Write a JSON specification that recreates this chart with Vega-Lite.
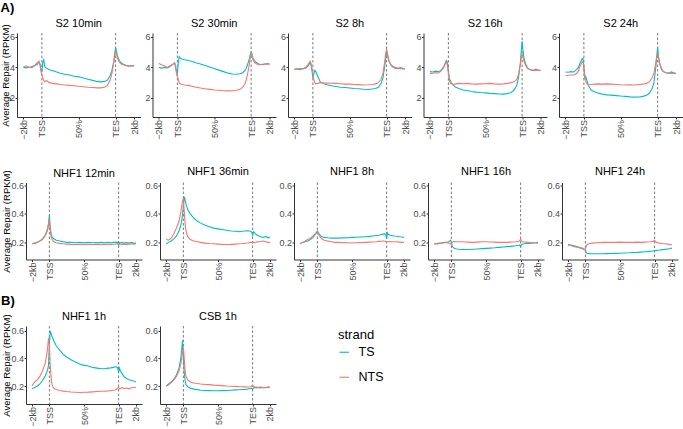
{
 "$schema": "https://vega.github.io/schema/vega-lite/v6.json",
 "padding": {"left": 0, "top": 1, "right": 0, "bottom": 0},
 "background": "white",
 "datasets": {
  "markers": [{"x": 20}, {"x": 100}],
  "s2_10min": [
{"strand":"TS","x":0,"y":4.0},{"strand":"TS","x":3,"y":3.97},{"strand":"TS","x":6,"y":4.02},{"strand":"TS","x":9,"y":3.98},{"strand":"TS","x":12,"y":4.1},{"strand":"TS","x":15,"y":4.2},{"strand":"TS","x":17,"y":4.35},{"strand":"TS","x":18,"y":4.2},{"strand":"TS","x":19,"y":3.85},{"strand":"TS","x":20,"y":3.7},{"strand":"TS","x":21,"y":4.35},{"strand":"TS","x":22,"y":4.5},{"strand":"TS","x":23,"y":4.05},{"strand":"TS","x":25,"y":3.95},{"strand":"TS","x":28,"y":3.85},{"strand":"TS","x":32,"y":3.78},{"strand":"TS","x":36,"y":3.7},{"strand":"TS","x":40,"y":3.62},{"strand":"TS","x":45,"y":3.55},{"strand":"TS","x":50,"y":3.5},{"strand":"TS","x":55,"y":3.42},{"strand":"TS","x":60,"y":3.38},{"strand":"TS","x":65,"y":3.3},{"strand":"TS","x":70,"y":3.22},{"strand":"TS","x":75,"y":3.15},{"strand":"TS","x":80,"y":3.08},{"strand":"TS","x":84,"y":3.05},{"strand":"TS","x":88,"y":3.08},{"strand":"TS","x":91,"y":3.15},{"strand":"TS","x":94,"y":3.45},{"strand":"TS","x":96,"y":3.8},{"strand":"TS","x":98,"y":4.4},{"strand":"TS","x":99,"y":4.9},{"strand":"TS","x":100,"y":5.3},{"strand":"TS","x":101,"y":5.05},{"strand":"TS","x":102,"y":4.75},{"strand":"TS","x":104,"y":4.45},{"strand":"TS","x":106,"y":4.3},{"strand":"TS","x":109,"y":4.18},{"strand":"TS","x":112,"y":4.12},{"strand":"TS","x":115,"y":4.08},{"strand":"TS","x":118,"y":4.12},{"strand":"TS","x":120,"y":4.1},
{"strand":"NTS","x":0,"y":4.02},{"strand":"NTS","x":3,"y":4.1},{"strand":"NTS","x":6,"y":3.98},{"strand":"NTS","x":9,"y":4.05},{"strand":"NTS","x":12,"y":4.12},{"strand":"NTS","x":15,"y":4.3},{"strand":"NTS","x":17,"y":4.4},{"strand":"NTS","x":18,"y":4.15},{"strand":"NTS","x":19,"y":3.75},{"strand":"NTS","x":20,"y":3.5},{"strand":"NTS","x":21,"y":3.3},{"strand":"NTS","x":22,"y":3.15},{"strand":"NTS","x":23,"y":3.05},{"strand":"NTS","x":25,"y":3.15},{"strand":"NTS","x":28,"y":3.0},{"strand":"NTS","x":32,"y":2.95},{"strand":"NTS","x":36,"y":2.92},{"strand":"NTS","x":40,"y":2.88},{"strand":"NTS","x":45,"y":2.85},{"strand":"NTS","x":50,"y":2.82},{"strand":"NTS","x":55,"y":2.8},{"strand":"NTS","x":60,"y":2.76},{"strand":"NTS","x":65,"y":2.73},{"strand":"NTS","x":70,"y":2.7},{"strand":"NTS","x":75,"y":2.68},{"strand":"NTS","x":80,"y":2.66},{"strand":"NTS","x":84,"y":2.66},{"strand":"NTS","x":88,"y":2.7},{"strand":"NTS","x":91,"y":2.82},{"strand":"NTS","x":94,"y":3.15},{"strand":"NTS","x":96,"y":3.6},{"strand":"NTS","x":98,"y":4.3},{"strand":"NTS","x":99,"y":4.75},{"strand":"NTS","x":100,"y":5.05},{"strand":"NTS","x":101,"y":4.9},{"strand":"NTS","x":102,"y":4.6},{"strand":"NTS","x":104,"y":4.35},{"strand":"NTS","x":106,"y":4.22},{"strand":"NTS","x":109,"y":4.15},{"strand":"NTS","x":112,"y":4.1},{"strand":"NTS","x":115,"y":4.08},{"strand":"NTS","x":118,"y":4.1},{"strand":"NTS","x":120,"y":4.1}
  ],
  "s2_30min": [
{"strand":"TS","x":0,"y":4.0},{"strand":"TS","x":3,"y":3.95},{"strand":"TS","x":6,"y":4.0},{"strand":"TS","x":9,"y":3.97},{"strand":"TS","x":12,"y":4.05},{"strand":"TS","x":15,"y":4.2},{"strand":"TS","x":17,"y":4.3},{"strand":"TS","x":18,"y":4.1},{"strand":"TS","x":19,"y":3.75},{"strand":"TS","x":20,"y":3.6},{"strand":"TS","x":21,"y":4.3},{"strand":"TS","x":22,"y":4.7},{"strand":"TS","x":23,"y":4.62},{"strand":"TS","x":25,"y":4.55},{"strand":"TS","x":28,"y":4.5},{"strand":"TS","x":32,"y":4.45},{"strand":"TS","x":36,"y":4.38},{"strand":"TS","x":40,"y":4.3},{"strand":"TS","x":45,"y":4.22},{"strand":"TS","x":50,"y":4.12},{"strand":"TS","x":55,"y":4.02},{"strand":"TS","x":60,"y":3.92},{"strand":"TS","x":65,"y":3.82},{"strand":"TS","x":70,"y":3.72},{"strand":"TS","x":75,"y":3.62},{"strand":"TS","x":80,"y":3.57},{"strand":"TS","x":84,"y":3.55},{"strand":"TS","x":88,"y":3.58},{"strand":"TS","x":91,"y":3.65},{"strand":"TS","x":94,"y":3.85},{"strand":"TS","x":96,"y":4.15},{"strand":"TS","x":98,"y":4.55},{"strand":"TS","x":99,"y":4.8},{"strand":"TS","x":100,"y":5.0},{"strand":"TS","x":101,"y":4.85},{"strand":"TS","x":102,"y":4.6},{"strand":"TS","x":104,"y":4.4},{"strand":"TS","x":106,"y":4.3},{"strand":"TS","x":109,"y":4.2},{"strand":"TS","x":112,"y":4.18},{"strand":"TS","x":115,"y":4.22},{"strand":"TS","x":118,"y":4.25},{"strand":"TS","x":120,"y":4.2},
{"strand":"NTS","x":0,"y":4.25},{"strand":"NTS","x":3,"y":4.15},{"strand":"NTS","x":6,"y":4.1},{"strand":"NTS","x":9,"y":4.0},{"strand":"NTS","x":12,"y":4.1},{"strand":"NTS","x":15,"y":4.2},{"strand":"NTS","x":17,"y":4.3},{"strand":"NTS","x":18,"y":4.0},{"strand":"NTS","x":19,"y":3.6},{"strand":"NTS","x":20,"y":3.4},{"strand":"NTS","x":21,"y":3.2},{"strand":"NTS","x":22,"y":3.0},{"strand":"NTS","x":23,"y":2.92},{"strand":"NTS","x":25,"y":2.88},{"strand":"NTS","x":28,"y":2.85},{"strand":"NTS","x":32,"y":2.82},{"strand":"NTS","x":36,"y":2.76},{"strand":"NTS","x":40,"y":2.7},{"strand":"NTS","x":45,"y":2.65},{"strand":"NTS","x":50,"y":2.6},{"strand":"NTS","x":55,"y":2.56},{"strand":"NTS","x":60,"y":2.52},{"strand":"NTS","x":65,"y":2.5},{"strand":"NTS","x":70,"y":2.47},{"strand":"NTS","x":75,"y":2.46},{"strand":"NTS","x":80,"y":2.47},{"strand":"NTS","x":84,"y":2.5},{"strand":"NTS","x":88,"y":2.56},{"strand":"NTS","x":91,"y":2.7},{"strand":"NTS","x":94,"y":3.0},{"strand":"NTS","x":96,"y":3.5},{"strand":"NTS","x":98,"y":4.2},{"strand":"NTS","x":99,"y":4.6},{"strand":"NTS","x":100,"y":4.9},{"strand":"NTS","x":101,"y":4.75},{"strand":"NTS","x":102,"y":4.5},{"strand":"NTS","x":104,"y":4.3},{"strand":"NTS","x":106,"y":4.22},{"strand":"NTS","x":109,"y":4.18},{"strand":"NTS","x":112,"y":4.2},{"strand":"NTS","x":115,"y":4.2},{"strand":"NTS","x":118,"y":4.22},{"strand":"NTS","x":120,"y":4.2}
  ],
  "s2_8h": [
{"strand":"TS","x":0,"y":3.88},{"strand":"TS","x":3,"y":3.9},{"strand":"TS","x":6,"y":3.85},{"strand":"TS","x":9,"y":3.92},{"strand":"TS","x":12,"y":3.95},{"strand":"TS","x":15,"y":4.1},{"strand":"TS","x":17,"y":4.3},{"strand":"TS","x":18,"y":4.2},{"strand":"TS","x":19,"y":3.8},{"strand":"TS","x":20,"y":3.3},{"strand":"TS","x":21,"y":3.55},{"strand":"TS","x":22,"y":3.8},{"strand":"TS","x":23,"y":3.75},{"strand":"TS","x":25,"y":3.45},{"strand":"TS","x":28,"y":3.05},{"strand":"TS","x":32,"y":2.92},{"strand":"TS","x":36,"y":2.85},{"strand":"TS","x":40,"y":2.8},{"strand":"TS","x":45,"y":2.75},{"strand":"TS","x":50,"y":2.7},{"strand":"TS","x":55,"y":2.68},{"strand":"TS","x":60,"y":2.65},{"strand":"TS","x":65,"y":2.62},{"strand":"TS","x":70,"y":2.6},{"strand":"TS","x":75,"y":2.57},{"strand":"TS","x":80,"y":2.55},{"strand":"TS","x":84,"y":2.58},{"strand":"TS","x":88,"y":2.62},{"strand":"TS","x":91,"y":2.7},{"strand":"TS","x":94,"y":2.95},{"strand":"TS","x":96,"y":3.3},{"strand":"TS","x":98,"y":4.1},{"strand":"TS","x":99,"y":4.6},{"strand":"TS","x":100,"y":5.0},{"strand":"TS","x":101,"y":4.8},{"strand":"TS","x":102,"y":4.5},{"strand":"TS","x":104,"y":4.2},{"strand":"TS","x":106,"y":4.05},{"strand":"TS","x":109,"y":3.95},{"strand":"TS","x":112,"y":3.92},{"strand":"TS","x":115,"y":3.98},{"strand":"TS","x":118,"y":3.92},{"strand":"TS","x":120,"y":3.9},
{"strand":"NTS","x":0,"y":3.9},{"strand":"NTS","x":3,"y":3.88},{"strand":"NTS","x":6,"y":3.92},{"strand":"NTS","x":9,"y":3.9},{"strand":"NTS","x":12,"y":4.0},{"strand":"NTS","x":15,"y":4.2},{"strand":"NTS","x":17,"y":4.4},{"strand":"NTS","x":18,"y":4.25},{"strand":"NTS","x":19,"y":3.95},{"strand":"NTS","x":20,"y":3.6},{"strand":"NTS","x":21,"y":3.2},{"strand":"NTS","x":22,"y":3.0},{"strand":"NTS","x":23,"y":2.92},{"strand":"NTS","x":25,"y":2.95},{"strand":"NTS","x":28,"y":3.0},{"strand":"NTS","x":32,"y":2.98},{"strand":"NTS","x":36,"y":2.97},{"strand":"NTS","x":40,"y":2.96},{"strand":"NTS","x":45,"y":2.95},{"strand":"NTS","x":50,"y":2.93},{"strand":"NTS","x":55,"y":2.9},{"strand":"NTS","x":60,"y":2.9},{"strand":"NTS","x":65,"y":2.88},{"strand":"NTS","x":70,"y":2.87},{"strand":"NTS","x":75,"y":2.85},{"strand":"NTS","x":80,"y":2.86},{"strand":"NTS","x":84,"y":2.88},{"strand":"NTS","x":88,"y":2.92},{"strand":"NTS","x":91,"y":3.0},{"strand":"NTS","x":94,"y":3.2},{"strand":"NTS","x":96,"y":3.6},{"strand":"NTS","x":98,"y":4.4},{"strand":"NTS","x":99,"y":4.9},{"strand":"NTS","x":100,"y":5.2},{"strand":"NTS","x":101,"y":4.9},{"strand":"NTS","x":102,"y":4.55},{"strand":"NTS","x":104,"y":4.25},{"strand":"NTS","x":106,"y":4.1},{"strand":"NTS","x":109,"y":4.0},{"strand":"NTS","x":112,"y":3.95},{"strand":"NTS","x":115,"y":3.92},{"strand":"NTS","x":118,"y":3.9},{"strand":"NTS","x":120,"y":3.9}
  ],
  "s2_16h": [
{"strand":"TS","x":0,"y":3.72},{"strand":"TS","x":3,"y":3.7},{"strand":"TS","x":6,"y":3.75},{"strand":"TS","x":9,"y":3.72},{"strand":"TS","x":12,"y":3.8},{"strand":"TS","x":15,"y":4.05},{"strand":"TS","x":17,"y":4.35},{"strand":"TS","x":18,"y":4.45},{"strand":"TS","x":19,"y":4.3},{"strand":"TS","x":20,"y":3.8},{"strand":"TS","x":21,"y":3.25},{"strand":"TS","x":22,"y":3.15},{"strand":"TS","x":23,"y":3.0},{"strand":"TS","x":25,"y":2.85},{"strand":"TS","x":28,"y":2.7},{"strand":"TS","x":32,"y":2.6},{"strand":"TS","x":36,"y":2.52},{"strand":"TS","x":40,"y":2.48},{"strand":"TS","x":45,"y":2.42},{"strand":"TS","x":50,"y":2.38},{"strand":"TS","x":55,"y":2.35},{"strand":"TS","x":60,"y":2.33},{"strand":"TS","x":65,"y":2.3},{"strand":"TS","x":70,"y":2.28},{"strand":"TS","x":75,"y":2.26},{"strand":"TS","x":80,"y":2.25},{"strand":"TS","x":84,"y":2.28},{"strand":"TS","x":88,"y":2.35},{"strand":"TS","x":91,"y":2.5},{"strand":"TS","x":94,"y":2.8},{"strand":"TS","x":96,"y":3.3},{"strand":"TS","x":98,"y":4.2},{"strand":"TS","x":99,"y":5.0},{"strand":"TS","x":100,"y":5.7},{"strand":"TS","x":101,"y":5.1},{"strand":"TS","x":102,"y":4.6},{"strand":"TS","x":104,"y":4.2},{"strand":"TS","x":106,"y":3.95},{"strand":"TS","x":109,"y":3.85},{"strand":"TS","x":112,"y":3.8},{"strand":"TS","x":115,"y":3.88},{"strand":"TS","x":118,"y":3.8},{"strand":"TS","x":120,"y":3.8},
{"strand":"NTS","x":0,"y":3.6},{"strand":"NTS","x":3,"y":3.62},{"strand":"NTS","x":6,"y":3.65},{"strand":"NTS","x":9,"y":3.63},{"strand":"NTS","x":12,"y":3.75},{"strand":"NTS","x":15,"y":4.0},{"strand":"NTS","x":17,"y":4.3},{"strand":"NTS","x":18,"y":4.35},{"strand":"NTS","x":19,"y":4.1},{"strand":"NTS","x":20,"y":3.6},{"strand":"NTS","x":21,"y":3.2},{"strand":"NTS","x":22,"y":3.0},{"strand":"NTS","x":23,"y":2.92},{"strand":"NTS","x":25,"y":2.88},{"strand":"NTS","x":28,"y":2.92},{"strand":"NTS","x":32,"y":2.95},{"strand":"NTS","x":36,"y":2.93},{"strand":"NTS","x":40,"y":2.95},{"strand":"NTS","x":45,"y":2.92},{"strand":"NTS","x":50,"y":2.9},{"strand":"NTS","x":55,"y":2.92},{"strand":"NTS","x":60,"y":2.93},{"strand":"NTS","x":65,"y":2.95},{"strand":"NTS","x":70,"y":2.92},{"strand":"NTS","x":75,"y":2.9},{"strand":"NTS","x":80,"y":2.92},{"strand":"NTS","x":84,"y":2.95},{"strand":"NTS","x":88,"y":3.0},{"strand":"NTS","x":91,"y":3.05},{"strand":"NTS","x":94,"y":3.2},{"strand":"NTS","x":96,"y":3.5},{"strand":"NTS","x":98,"y":4.2},{"strand":"NTS","x":99,"y":4.6},{"strand":"NTS","x":100,"y":4.9},{"strand":"NTS","x":101,"y":4.7},{"strand":"NTS","x":102,"y":4.4},{"strand":"NTS","x":104,"y":4.1},{"strand":"NTS","x":106,"y":3.92},{"strand":"NTS","x":109,"y":3.85},{"strand":"NTS","x":112,"y":3.8},{"strand":"NTS","x":115,"y":3.82},{"strand":"NTS","x":118,"y":3.8},{"strand":"NTS","x":120,"y":3.8}
  ],
  "s2_24h": [
{"strand":"TS","x":0,"y":3.7},{"strand":"TS","x":3,"y":3.68},{"strand":"TS","x":6,"y":3.72},{"strand":"TS","x":9,"y":3.7},{"strand":"TS","x":12,"y":3.85},{"strand":"TS","x":14,"y":4.0},{"strand":"TS","x":16,"y":4.3},{"strand":"TS","x":18,"y":4.55},{"strand":"TS","x":19,"y":4.6},{"strand":"TS","x":20,"y":4.1},{"strand":"TS","x":21,"y":3.3},{"strand":"TS","x":22,"y":3.4},{"strand":"TS","x":23,"y":3.2},{"strand":"TS","x":25,"y":2.8},{"strand":"TS","x":28,"y":2.5},{"strand":"TS","x":32,"y":2.38},{"strand":"TS","x":36,"y":2.3},{"strand":"TS","x":40,"y":2.25},{"strand":"TS","x":45,"y":2.2},{"strand":"TS","x":50,"y":2.18},{"strand":"TS","x":55,"y":2.15},{"strand":"TS","x":60,"y":2.12},{"strand":"TS","x":65,"y":2.1},{"strand":"TS","x":70,"y":2.07},{"strand":"TS","x":75,"y":2.05},{"strand":"TS","x":80,"y":2.06},{"strand":"TS","x":84,"y":2.1},{"strand":"TS","x":88,"y":2.18},{"strand":"TS","x":91,"y":2.3},{"strand":"TS","x":94,"y":2.6},{"strand":"TS","x":96,"y":3.0},{"strand":"TS","x":98,"y":4.0},{"strand":"TS","x":99,"y":4.7},{"strand":"TS","x":100,"y":5.3},{"strand":"TS","x":101,"y":4.7},{"strand":"TS","x":102,"y":4.3},{"strand":"TS","x":104,"y":3.9},{"strand":"TS","x":106,"y":3.72},{"strand":"TS","x":109,"y":3.65},{"strand":"TS","x":112,"y":3.62},{"strand":"TS","x":115,"y":3.7},{"strand":"TS","x":118,"y":3.62},{"strand":"TS","x":120,"y":3.6},
{"strand":"NTS","x":0,"y":3.45},{"strand":"NTS","x":3,"y":3.48},{"strand":"NTS","x":6,"y":3.5},{"strand":"NTS","x":9,"y":3.5},{"strand":"NTS","x":12,"y":3.6},{"strand":"NTS","x":14,"y":3.75},{"strand":"NTS","x":16,"y":4.1},{"strand":"NTS","x":18,"y":4.35},{"strand":"NTS","x":19,"y":4.4},{"strand":"NTS","x":20,"y":3.9},{"strand":"NTS","x":21,"y":3.4},{"strand":"NTS","x":22,"y":3.1},{"strand":"NTS","x":23,"y":2.95},{"strand":"NTS","x":25,"y":2.85},{"strand":"NTS","x":28,"y":2.88},{"strand":"NTS","x":32,"y":2.9},{"strand":"NTS","x":36,"y":2.92},{"strand":"NTS","x":40,"y":2.9},{"strand":"NTS","x":45,"y":2.92},{"strand":"NTS","x":50,"y":2.9},{"strand":"NTS","x":55,"y":2.88},{"strand":"NTS","x":60,"y":2.86},{"strand":"NTS","x":65,"y":2.85},{"strand":"NTS","x":70,"y":2.86},{"strand":"NTS","x":75,"y":2.85},{"strand":"NTS","x":80,"y":2.88},{"strand":"NTS","x":84,"y":2.9},{"strand":"NTS","x":88,"y":2.95},{"strand":"NTS","x":91,"y":3.05},{"strand":"NTS","x":94,"y":3.3},{"strand":"NTS","x":96,"y":3.6},{"strand":"NTS","x":98,"y":4.3},{"strand":"NTS","x":99,"y":4.7},{"strand":"NTS","x":100,"y":4.9},{"strand":"NTS","x":101,"y":4.6},{"strand":"NTS","x":102,"y":4.3},{"strand":"NTS","x":104,"y":3.95},{"strand":"NTS","x":106,"y":3.75},{"strand":"NTS","x":109,"y":3.65},{"strand":"NTS","x":112,"y":3.62},{"strand":"NTS","x":115,"y":3.6},{"strand":"NTS","x":118,"y":3.62},{"strand":"NTS","x":120,"y":3.6}
  ],
  "nhf1_12min": [
{"strand":"TS","x":0,"y":0.19},{"strand":"TS","x":3,"y":0.195},{"strand":"TS","x":6,"y":0.2},{"strand":"TS","x":9,"y":0.21},{"strand":"TS","x":12,"y":0.22},{"strand":"TS","x":15,"y":0.245},{"strand":"TS","x":17,"y":0.27},{"strand":"TS","x":18,"y":0.29},{"strand":"TS","x":19,"y":0.33},{"strand":"TS","x":20,"y":0.39},{"strand":"TS","x":21,"y":0.31},{"strand":"TS","x":22,"y":0.26},{"strand":"TS","x":23,"y":0.24},{"strand":"TS","x":25,"y":0.225},{"strand":"TS","x":28,"y":0.215},{"strand":"TS","x":32,"y":0.21},{"strand":"TS","x":36,"y":0.205},{"strand":"TS","x":40,"y":0.2},{"strand":"TS","x":45,"y":0.2},{"strand":"TS","x":50,"y":0.198},{"strand":"TS","x":55,"y":0.2},{"strand":"TS","x":60,"y":0.198},{"strand":"TS","x":65,"y":0.2},{"strand":"TS","x":70,"y":0.197},{"strand":"TS","x":75,"y":0.198},{"strand":"TS","x":80,"y":0.2},{"strand":"TS","x":84,"y":0.197},{"strand":"TS","x":88,"y":0.2},{"strand":"TS","x":91,"y":0.198},{"strand":"TS","x":94,"y":0.2},{"strand":"TS","x":96,"y":0.2},{"strand":"TS","x":98,"y":0.202},{"strand":"TS","x":99,"y":0.2},{"strand":"TS","x":100,"y":0.175},{"strand":"TS","x":101,"y":0.2},{"strand":"TS","x":102,"y":0.198},{"strand":"TS","x":104,"y":0.2},{"strand":"TS","x":106,"y":0.195},{"strand":"TS","x":109,"y":0.198},{"strand":"TS","x":112,"y":0.195},{"strand":"TS","x":115,"y":0.2},{"strand":"TS","x":118,"y":0.193},{"strand":"TS","x":120,"y":0.195},
{"strand":"NTS","x":0,"y":0.19},{"strand":"NTS","x":3,"y":0.195},{"strand":"NTS","x":6,"y":0.2},{"strand":"NTS","x":9,"y":0.21},{"strand":"NTS","x":12,"y":0.225},{"strand":"NTS","x":15,"y":0.25},{"strand":"NTS","x":17,"y":0.28},{"strand":"NTS","x":18,"y":0.3},{"strand":"NTS","x":19,"y":0.33},{"strand":"NTS","x":20,"y":0.36},{"strand":"NTS","x":21,"y":0.29},{"strand":"NTS","x":22,"y":0.24},{"strand":"NTS","x":23,"y":0.22},{"strand":"NTS","x":25,"y":0.205},{"strand":"NTS","x":28,"y":0.198},{"strand":"NTS","x":32,"y":0.193},{"strand":"NTS","x":36,"y":0.19},{"strand":"NTS","x":40,"y":0.188},{"strand":"NTS","x":45,"y":0.186},{"strand":"NTS","x":50,"y":0.185},{"strand":"NTS","x":55,"y":0.185},{"strand":"NTS","x":60,"y":0.186},{"strand":"NTS","x":65,"y":0.185},{"strand":"NTS","x":70,"y":0.185},{"strand":"NTS","x":75,"y":0.186},{"strand":"NTS","x":80,"y":0.185},{"strand":"NTS","x":84,"y":0.186},{"strand":"NTS","x":88,"y":0.185},{"strand":"NTS","x":91,"y":0.186},{"strand":"NTS","x":94,"y":0.187},{"strand":"NTS","x":96,"y":0.188},{"strand":"NTS","x":98,"y":0.19},{"strand":"NTS","x":99,"y":0.19},{"strand":"NTS","x":100,"y":0.192},{"strand":"NTS","x":101,"y":0.19},{"strand":"NTS","x":102,"y":0.188},{"strand":"NTS","x":104,"y":0.186},{"strand":"NTS","x":106,"y":0.188},{"strand":"NTS","x":109,"y":0.186},{"strand":"NTS","x":112,"y":0.188},{"strand":"NTS","x":115,"y":0.19},{"strand":"NTS","x":118,"y":0.188},{"strand":"NTS","x":120,"y":0.19}
  ],
  "nhf1_36min": [
{"strand":"TS","x":0,"y":0.19},{"strand":"TS","x":3,"y":0.2},{"strand":"TS","x":6,"y":0.21},{"strand":"TS","x":9,"y":0.225},{"strand":"TS","x":12,"y":0.245},{"strand":"TS","x":15,"y":0.28},{"strand":"TS","x":17,"y":0.32},{"strand":"TS","x":18,"y":0.35},{"strand":"TS","x":19,"y":0.39},{"strand":"TS","x":20,"y":0.45},{"strand":"TS","x":21,"y":0.52},{"strand":"TS","x":22,"y":0.5},{"strand":"TS","x":23,"y":0.47},{"strand":"TS","x":25,"y":0.43},{"strand":"TS","x":28,"y":0.4},{"strand":"TS","x":32,"y":0.37},{"strand":"TS","x":36,"y":0.35},{"strand":"TS","x":40,"y":0.335},{"strand":"TS","x":45,"y":0.32},{"strand":"TS","x":50,"y":0.31},{"strand":"TS","x":55,"y":0.3},{"strand":"TS","x":60,"y":0.295},{"strand":"TS","x":65,"y":0.29},{"strand":"TS","x":70,"y":0.285},{"strand":"TS","x":75,"y":0.28},{"strand":"TS","x":80,"y":0.278},{"strand":"TS","x":84,"y":0.275},{"strand":"TS","x":88,"y":0.278},{"strand":"TS","x":91,"y":0.28},{"strand":"TS","x":94,"y":0.282},{"strand":"TS","x":96,"y":0.28},{"strand":"TS","x":98,"y":0.278},{"strand":"TS","x":99,"y":0.27},{"strand":"TS","x":100,"y":0.25},{"strand":"TS","x":101,"y":0.275},{"strand":"TS","x":102,"y":0.27},{"strand":"TS","x":104,"y":0.255},{"strand":"TS","x":106,"y":0.248},{"strand":"TS","x":109,"y":0.24},{"strand":"TS","x":112,"y":0.235},{"strand":"TS","x":115,"y":0.242},{"strand":"TS","x":118,"y":0.232},{"strand":"TS","x":120,"y":0.235},
{"strand":"NTS","x":0,"y":0.22},{"strand":"NTS","x":3,"y":0.215},{"strand":"NTS","x":6,"y":0.23},{"strand":"NTS","x":9,"y":0.26},{"strand":"NTS","x":12,"y":0.3},{"strand":"NTS","x":15,"y":0.35},{"strand":"NTS","x":17,"y":0.41},{"strand":"NTS","x":18,"y":0.45},{"strand":"NTS","x":19,"y":0.49},{"strand":"NTS","x":20,"y":0.51},{"strand":"NTS","x":21,"y":0.42},{"strand":"NTS","x":22,"y":0.33},{"strand":"NTS","x":23,"y":0.28},{"strand":"NTS","x":25,"y":0.24},{"strand":"NTS","x":28,"y":0.22},{"strand":"NTS","x":32,"y":0.21},{"strand":"NTS","x":36,"y":0.205},{"strand":"NTS","x":40,"y":0.2},{"strand":"NTS","x":45,"y":0.195},{"strand":"NTS","x":50,"y":0.192},{"strand":"NTS","x":55,"y":0.19},{"strand":"NTS","x":60,"y":0.188},{"strand":"NTS","x":65,"y":0.186},{"strand":"NTS","x":70,"y":0.185},{"strand":"NTS","x":75,"y":0.186},{"strand":"NTS","x":80,"y":0.188},{"strand":"NTS","x":84,"y":0.19},{"strand":"NTS","x":88,"y":0.192},{"strand":"NTS","x":91,"y":0.194},{"strand":"NTS","x":94,"y":0.196},{"strand":"NTS","x":96,"y":0.198},{"strand":"NTS","x":98,"y":0.2},{"strand":"NTS","x":99,"y":0.2},{"strand":"NTS","x":100,"y":0.203},{"strand":"NTS","x":101,"y":0.2},{"strand":"NTS","x":102,"y":0.2},{"strand":"NTS","x":104,"y":0.202},{"strand":"NTS","x":106,"y":0.205},{"strand":"NTS","x":109,"y":0.205},{"strand":"NTS","x":112,"y":0.21},{"strand":"NTS","x":115,"y":0.205},{"strand":"NTS","x":118,"y":0.2},{"strand":"NTS","x":120,"y":0.2}
  ],
  "nhf1_8h": [
{"strand":"TS","x":0,"y":0.19},{"strand":"TS","x":3,"y":0.2},{"strand":"TS","x":6,"y":0.205},{"strand":"TS","x":9,"y":0.21},{"strand":"TS","x":12,"y":0.22},{"strand":"TS","x":15,"y":0.235},{"strand":"TS","x":17,"y":0.25},{"strand":"TS","x":18,"y":0.26},{"strand":"TS","x":19,"y":0.27},{"strand":"TS","x":20,"y":0.28},{"strand":"TS","x":21,"y":0.27},{"strand":"TS","x":22,"y":0.26},{"strand":"TS","x":23,"y":0.25},{"strand":"TS","x":25,"y":0.24},{"strand":"TS","x":28,"y":0.235},{"strand":"TS","x":32,"y":0.232},{"strand":"TS","x":36,"y":0.23},{"strand":"TS","x":40,"y":0.23},{"strand":"TS","x":45,"y":0.23},{"strand":"TS","x":50,"y":0.232},{"strand":"TS","x":55,"y":0.233},{"strand":"TS","x":60,"y":0.235},{"strand":"TS","x":65,"y":0.236},{"strand":"TS","x":70,"y":0.238},{"strand":"TS","x":75,"y":0.24},{"strand":"TS","x":80,"y":0.242},{"strand":"TS","x":84,"y":0.245},{"strand":"TS","x":88,"y":0.248},{"strand":"TS","x":91,"y":0.25},{"strand":"TS","x":94,"y":0.255},{"strand":"TS","x":96,"y":0.258},{"strand":"TS","x":98,"y":0.26},{"strand":"TS","x":99,"y":0.255},{"strand":"TS","x":100,"y":0.225},{"strand":"TS","x":101,"y":0.265},{"strand":"TS","x":102,"y":0.255},{"strand":"TS","x":104,"y":0.25},{"strand":"TS","x":106,"y":0.248},{"strand":"TS","x":109,"y":0.245},{"strand":"TS","x":112,"y":0.243},{"strand":"TS","x":115,"y":0.24},{"strand":"TS","x":118,"y":0.238},{"strand":"TS","x":120,"y":0.235},
{"strand":"NTS","x":0,"y":0.19},{"strand":"NTS","x":3,"y":0.2},{"strand":"NTS","x":6,"y":0.21},{"strand":"NTS","x":9,"y":0.22},{"strand":"NTS","x":12,"y":0.23},{"strand":"NTS","x":15,"y":0.245},{"strand":"NTS","x":17,"y":0.258},{"strand":"NTS","x":18,"y":0.265},{"strand":"NTS","x":19,"y":0.27},{"strand":"NTS","x":20,"y":0.275},{"strand":"NTS","x":21,"y":0.265},{"strand":"NTS","x":22,"y":0.25},{"strand":"NTS","x":23,"y":0.24},{"strand":"NTS","x":25,"y":0.225},{"strand":"NTS","x":28,"y":0.215},{"strand":"NTS","x":32,"y":0.21},{"strand":"NTS","x":36,"y":0.205},{"strand":"NTS","x":40,"y":0.2},{"strand":"NTS","x":45,"y":0.2},{"strand":"NTS","x":50,"y":0.198},{"strand":"NTS","x":55,"y":0.197},{"strand":"NTS","x":60,"y":0.196},{"strand":"NTS","x":65,"y":0.197},{"strand":"NTS","x":70,"y":0.198},{"strand":"NTS","x":75,"y":0.2},{"strand":"NTS","x":80,"y":0.202},{"strand":"NTS","x":84,"y":0.203},{"strand":"NTS","x":88,"y":0.205},{"strand":"NTS","x":91,"y":0.207},{"strand":"NTS","x":94,"y":0.208},{"strand":"NTS","x":96,"y":0.21},{"strand":"NTS","x":98,"y":0.21},{"strand":"NTS","x":99,"y":0.205},{"strand":"NTS","x":100,"y":0.2},{"strand":"NTS","x":101,"y":0.205},{"strand":"NTS","x":102,"y":0.205},{"strand":"NTS","x":104,"y":0.206},{"strand":"NTS","x":106,"y":0.205},{"strand":"NTS","x":109,"y":0.205},{"strand":"NTS","x":112,"y":0.204},{"strand":"NTS","x":115,"y":0.202},{"strand":"NTS","x":118,"y":0.2},{"strand":"NTS","x":120,"y":0.2}
  ],
  "nhf1_16h": [
{"strand":"TS","x":0,"y":0.19},{"strand":"TS","x":3,"y":0.192},{"strand":"TS","x":6,"y":0.195},{"strand":"TS","x":9,"y":0.197},{"strand":"TS","x":12,"y":0.2},{"strand":"TS","x":15,"y":0.2},{"strand":"TS","x":17,"y":0.205},{"strand":"TS","x":18,"y":0.21},{"strand":"TS","x":19,"y":0.215},{"strand":"TS","x":20,"y":0.205},{"strand":"TS","x":21,"y":0.175},{"strand":"TS","x":22,"y":0.165},{"strand":"TS","x":23,"y":0.16},{"strand":"TS","x":25,"y":0.155},{"strand":"TS","x":28,"y":0.152},{"strand":"TS","x":32,"y":0.15},{"strand":"TS","x":36,"y":0.15},{"strand":"TS","x":40,"y":0.15},{"strand":"TS","x":45,"y":0.152},{"strand":"TS","x":50,"y":0.154},{"strand":"TS","x":55,"y":0.156},{"strand":"TS","x":60,"y":0.158},{"strand":"TS","x":65,"y":0.16},{"strand":"TS","x":70,"y":0.162},{"strand":"TS","x":75,"y":0.165},{"strand":"TS","x":80,"y":0.168},{"strand":"TS","x":84,"y":0.17},{"strand":"TS","x":88,"y":0.172},{"strand":"TS","x":91,"y":0.174},{"strand":"TS","x":94,"y":0.176},{"strand":"TS","x":96,"y":0.178},{"strand":"TS","x":98,"y":0.18},{"strand":"TS","x":99,"y":0.182},{"strand":"TS","x":100,"y":0.17},{"strand":"TS","x":101,"y":0.185},{"strand":"TS","x":102,"y":0.187},{"strand":"TS","x":104,"y":0.19},{"strand":"TS","x":106,"y":0.192},{"strand":"TS","x":109,"y":0.193},{"strand":"TS","x":112,"y":0.195},{"strand":"TS","x":115,"y":0.196},{"strand":"TS","x":118,"y":0.198},{"strand":"TS","x":120,"y":0.2},
{"strand":"NTS","x":0,"y":0.19},{"strand":"NTS","x":3,"y":0.188},{"strand":"NTS","x":6,"y":0.192},{"strand":"NTS","x":9,"y":0.195},{"strand":"NTS","x":12,"y":0.198},{"strand":"NTS","x":15,"y":0.2},{"strand":"NTS","x":17,"y":0.195},{"strand":"NTS","x":18,"y":0.19},{"strand":"NTS","x":19,"y":0.188},{"strand":"NTS","x":20,"y":0.195},{"strand":"NTS","x":21,"y":0.2},{"strand":"NTS","x":22,"y":0.205},{"strand":"NTS","x":23,"y":0.206},{"strand":"NTS","x":25,"y":0.205},{"strand":"NTS","x":28,"y":0.204},{"strand":"NTS","x":32,"y":0.205},{"strand":"NTS","x":36,"y":0.203},{"strand":"NTS","x":40,"y":0.202},{"strand":"NTS","x":45,"y":0.2},{"strand":"NTS","x":50,"y":0.202},{"strand":"NTS","x":55,"y":0.204},{"strand":"NTS","x":60,"y":0.205},{"strand":"NTS","x":65,"y":0.203},{"strand":"NTS","x":70,"y":0.202},{"strand":"NTS","x":75,"y":0.2},{"strand":"NTS","x":80,"y":0.201},{"strand":"NTS","x":84,"y":0.2},{"strand":"NTS","x":88,"y":0.202},{"strand":"NTS","x":91,"y":0.203},{"strand":"NTS","x":94,"y":0.204},{"strand":"NTS","x":96,"y":0.205},{"strand":"NTS","x":98,"y":0.208},{"strand":"NTS","x":99,"y":0.212},{"strand":"NTS","x":100,"y":0.225},{"strand":"NTS","x":101,"y":0.21},{"strand":"NTS","x":102,"y":0.205},{"strand":"NTS","x":104,"y":0.203},{"strand":"NTS","x":106,"y":0.202},{"strand":"NTS","x":109,"y":0.2},{"strand":"NTS","x":112,"y":0.198},{"strand":"NTS","x":115,"y":0.197},{"strand":"NTS","x":118,"y":0.196},{"strand":"NTS","x":120,"y":0.195}
  ],
  "nhf1_24h": [
{"strand":"TS","x":0,"y":0.185},{"strand":"TS","x":3,"y":0.182},{"strand":"TS","x":6,"y":0.178},{"strand":"TS","x":9,"y":0.172},{"strand":"TS","x":12,"y":0.167},{"strand":"TS","x":15,"y":0.162},{"strand":"TS","x":17,"y":0.158},{"strand":"TS","x":18,"y":0.155},{"strand":"TS","x":19,"y":0.153},{"strand":"TS","x":20,"y":0.15},{"strand":"TS","x":21,"y":0.128},{"strand":"TS","x":22,"y":0.124},{"strand":"TS","x":23,"y":0.122},{"strand":"TS","x":25,"y":0.121},{"strand":"TS","x":28,"y":0.12},{"strand":"TS","x":32,"y":0.12},{"strand":"TS","x":36,"y":0.12},{"strand":"TS","x":40,"y":0.12},{"strand":"TS","x":45,"y":0.121},{"strand":"TS","x":50,"y":0.122},{"strand":"TS","x":55,"y":0.123},{"strand":"TS","x":60,"y":0.124},{"strand":"TS","x":65,"y":0.126},{"strand":"TS","x":70,"y":0.127},{"strand":"TS","x":75,"y":0.129},{"strand":"TS","x":80,"y":0.13},{"strand":"TS","x":84,"y":0.132},{"strand":"TS","x":88,"y":0.134},{"strand":"TS","x":91,"y":0.135},{"strand":"TS","x":94,"y":0.137},{"strand":"TS","x":96,"y":0.138},{"strand":"TS","x":98,"y":0.14},{"strand":"TS","x":99,"y":0.141},{"strand":"TS","x":100,"y":0.142},{"strand":"TS","x":101,"y":0.143},{"strand":"TS","x":102,"y":0.144},{"strand":"TS","x":104,"y":0.145},{"strand":"TS","x":106,"y":0.147},{"strand":"TS","x":109,"y":0.149},{"strand":"TS","x":112,"y":0.151},{"strand":"TS","x":115,"y":0.154},{"strand":"TS","x":118,"y":0.157},{"strand":"TS","x":120,"y":0.16},
{"strand":"NTS","x":0,"y":0.18},{"strand":"NTS","x":3,"y":0.178},{"strand":"NTS","x":6,"y":0.172},{"strand":"NTS","x":9,"y":0.168},{"strand":"NTS","x":12,"y":0.164},{"strand":"NTS","x":15,"y":0.158},{"strand":"NTS","x":17,"y":0.153},{"strand":"NTS","x":18,"y":0.15},{"strand":"NTS","x":19,"y":0.148},{"strand":"NTS","x":20,"y":0.146},{"strand":"NTS","x":21,"y":0.175},{"strand":"NTS","x":22,"y":0.183},{"strand":"NTS","x":23,"y":0.188},{"strand":"NTS","x":25,"y":0.192},{"strand":"NTS","x":28,"y":0.195},{"strand":"NTS","x":32,"y":0.197},{"strand":"NTS","x":36,"y":0.198},{"strand":"NTS","x":40,"y":0.2},{"strand":"NTS","x":45,"y":0.2},{"strand":"NTS","x":50,"y":0.201},{"strand":"NTS","x":55,"y":0.2},{"strand":"NTS","x":60,"y":0.202},{"strand":"NTS","x":65,"y":0.2},{"strand":"NTS","x":70,"y":0.201},{"strand":"NTS","x":75,"y":0.2},{"strand":"NTS","x":80,"y":0.202},{"strand":"NTS","x":84,"y":0.2},{"strand":"NTS","x":88,"y":0.202},{"strand":"NTS","x":91,"y":0.203},{"strand":"NTS","x":94,"y":0.204},{"strand":"NTS","x":96,"y":0.205},{"strand":"NTS","x":98,"y":0.207},{"strand":"NTS","x":99,"y":0.21},{"strand":"NTS","x":100,"y":0.215},{"strand":"NTS","x":101,"y":0.205},{"strand":"NTS","x":102,"y":0.2},{"strand":"NTS","x":104,"y":0.198},{"strand":"NTS","x":106,"y":0.195},{"strand":"NTS","x":109,"y":0.192},{"strand":"NTS","x":112,"y":0.19},{"strand":"NTS","x":115,"y":0.188},{"strand":"NTS","x":118,"y":0.185},{"strand":"NTS","x":120,"y":0.183}
  ],
  "nhf1_1h": [
{"strand":"TS","x":0,"y":0.18},{"strand":"TS","x":3,"y":0.19},{"strand":"TS","x":6,"y":0.2},{"strand":"TS","x":9,"y":0.215},{"strand":"TS","x":12,"y":0.24},{"strand":"TS","x":15,"y":0.27},{"strand":"TS","x":17,"y":0.3},{"strand":"TS","x":18,"y":0.32},{"strand":"TS","x":19,"y":0.35},{"strand":"TS","x":20,"y":0.5},{"strand":"TS","x":21,"y":0.6},{"strand":"TS","x":22,"y":0.58},{"strand":"TS","x":23,"y":0.56},{"strand":"TS","x":25,"y":0.53},{"strand":"TS","x":28,"y":0.49},{"strand":"TS","x":32,"y":0.46},{"strand":"TS","x":36,"y":0.43},{"strand":"TS","x":40,"y":0.41},{"strand":"TS","x":45,"y":0.39},{"strand":"TS","x":50,"y":0.375},{"strand":"TS","x":55,"y":0.36},{"strand":"TS","x":60,"y":0.35},{"strand":"TS","x":65,"y":0.345},{"strand":"TS","x":70,"y":0.335},{"strand":"TS","x":75,"y":0.33},{"strand":"TS","x":80,"y":0.325},{"strand":"TS","x":84,"y":0.325},{"strand":"TS","x":88,"y":0.33},{"strand":"TS","x":91,"y":0.332},{"strand":"TS","x":94,"y":0.335},{"strand":"TS","x":96,"y":0.34},{"strand":"TS","x":98,"y":0.338},{"strand":"TS","x":99,"y":0.33},{"strand":"TS","x":100,"y":0.3},{"strand":"TS","x":101,"y":0.33},{"strand":"TS","x":102,"y":0.31},{"strand":"TS","x":104,"y":0.29},{"strand":"TS","x":106,"y":0.27},{"strand":"TS","x":109,"y":0.255},{"strand":"TS","x":112,"y":0.245},{"strand":"TS","x":115,"y":0.24},{"strand":"TS","x":118,"y":0.235},{"strand":"TS","x":120,"y":0.23},
{"strand":"NTS","x":0,"y":0.2},{"strand":"NTS","x":3,"y":0.23},{"strand":"NTS","x":6,"y":0.245},{"strand":"NTS","x":9,"y":0.27},{"strand":"NTS","x":12,"y":0.31},{"strand":"NTS","x":15,"y":0.36},{"strand":"NTS","x":17,"y":0.43},{"strand":"NTS","x":18,"y":0.48},{"strand":"NTS","x":19,"y":0.55},{"strand":"NTS","x":20,"y":0.5},{"strand":"NTS","x":21,"y":0.35},{"strand":"NTS","x":22,"y":0.26},{"strand":"NTS","x":23,"y":0.21},{"strand":"NTS","x":25,"y":0.185},{"strand":"NTS","x":28,"y":0.175},{"strand":"NTS","x":32,"y":0.168},{"strand":"NTS","x":36,"y":0.163},{"strand":"NTS","x":40,"y":0.16},{"strand":"NTS","x":45,"y":0.157},{"strand":"NTS","x":50,"y":0.155},{"strand":"NTS","x":55,"y":0.153},{"strand":"NTS","x":60,"y":0.155},{"strand":"NTS","x":65,"y":0.156},{"strand":"NTS","x":70,"y":0.158},{"strand":"NTS","x":75,"y":0.16},{"strand":"NTS","x":80,"y":0.162},{"strand":"NTS","x":84,"y":0.163},{"strand":"NTS","x":88,"y":0.165},{"strand":"NTS","x":91,"y":0.167},{"strand":"NTS","x":94,"y":0.17},{"strand":"NTS","x":96,"y":0.172},{"strand":"NTS","x":98,"y":0.178},{"strand":"NTS","x":99,"y":0.185},{"strand":"NTS","x":100,"y":0.19},{"strand":"NTS","x":101,"y":0.18},{"strand":"NTS","x":102,"y":0.183},{"strand":"NTS","x":104,"y":0.188},{"strand":"NTS","x":106,"y":0.182},{"strand":"NTS","x":109,"y":0.186},{"strand":"NTS","x":112,"y":0.18},{"strand":"NTS","x":115,"y":0.188},{"strand":"NTS","x":118,"y":0.19},{"strand":"NTS","x":120,"y":0.19}
  ],
  "csb_1h": [
{"strand":"TS","x":0,"y":0.2},{"strand":"TS","x":3,"y":0.215},{"strand":"TS","x":6,"y":0.23},{"strand":"TS","x":9,"y":0.25},{"strand":"TS","x":12,"y":0.28},{"strand":"TS","x":15,"y":0.33},{"strand":"TS","x":17,"y":0.4},{"strand":"TS","x":18,"y":0.46},{"strand":"TS","x":19,"y":0.53},{"strand":"TS","x":20,"y":0.42},{"strand":"TS","x":21,"y":0.3},{"strand":"TS","x":22,"y":0.24},{"strand":"TS","x":23,"y":0.21},{"strand":"TS","x":25,"y":0.195},{"strand":"TS","x":28,"y":0.185},{"strand":"TS","x":32,"y":0.178},{"strand":"TS","x":36,"y":0.174},{"strand":"TS","x":40,"y":0.17},{"strand":"TS","x":45,"y":0.168},{"strand":"TS","x":50,"y":0.167},{"strand":"TS","x":55,"y":0.166},{"strand":"TS","x":60,"y":0.166},{"strand":"TS","x":65,"y":0.167},{"strand":"TS","x":70,"y":0.168},{"strand":"TS","x":75,"y":0.17},{"strand":"TS","x":80,"y":0.172},{"strand":"TS","x":84,"y":0.173},{"strand":"TS","x":88,"y":0.175},{"strand":"TS","x":91,"y":0.176},{"strand":"TS","x":94,"y":0.178},{"strand":"TS","x":96,"y":0.18},{"strand":"TS","x":98,"y":0.182},{"strand":"TS","x":99,"y":0.183},{"strand":"TS","x":100,"y":0.18},{"strand":"TS","x":101,"y":0.185},{"strand":"TS","x":102,"y":0.19},{"strand":"TS","x":104,"y":0.187},{"strand":"TS","x":106,"y":0.19},{"strand":"TS","x":109,"y":0.186},{"strand":"TS","x":112,"y":0.19},{"strand":"TS","x":115,"y":0.188},{"strand":"TS","x":118,"y":0.192},{"strand":"TS","x":120,"y":0.19},
{"strand":"NTS","x":0,"y":0.2},{"strand":"NTS","x":3,"y":0.21},{"strand":"NTS","x":6,"y":0.225},{"strand":"NTS","x":9,"y":0.245},{"strand":"NTS","x":12,"y":0.27},{"strand":"NTS","x":15,"y":0.31},{"strand":"NTS","x":17,"y":0.36},{"strand":"NTS","x":18,"y":0.4},{"strand":"NTS","x":19,"y":0.44},{"strand":"NTS","x":20,"y":0.48},{"strand":"NTS","x":21,"y":0.4},{"strand":"NTS","x":22,"y":0.31},{"strand":"NTS","x":23,"y":0.27},{"strand":"NTS","x":25,"y":0.245},{"strand":"NTS","x":28,"y":0.23},{"strand":"NTS","x":32,"y":0.222},{"strand":"NTS","x":36,"y":0.218},{"strand":"NTS","x":40,"y":0.215},{"strand":"NTS","x":45,"y":0.212},{"strand":"NTS","x":50,"y":0.21},{"strand":"NTS","x":55,"y":0.207},{"strand":"NTS","x":60,"y":0.205},{"strand":"NTS","x":65,"y":0.203},{"strand":"NTS","x":70,"y":0.2},{"strand":"NTS","x":75,"y":0.199},{"strand":"NTS","x":80,"y":0.198},{"strand":"NTS","x":84,"y":0.196},{"strand":"NTS","x":88,"y":0.195},{"strand":"NTS","x":91,"y":0.194},{"strand":"NTS","x":94,"y":0.193},{"strand":"NTS","x":96,"y":0.193},{"strand":"NTS","x":98,"y":0.195},{"strand":"NTS","x":99,"y":0.2},{"strand":"NTS","x":100,"y":0.205},{"strand":"NTS","x":101,"y":0.198},{"strand":"NTS","x":102,"y":0.195},{"strand":"NTS","x":104,"y":0.193},{"strand":"NTS","x":106,"y":0.19},{"strand":"NTS","x":109,"y":0.192},{"strand":"NTS","x":112,"y":0.19},{"strand":"NTS","x":115,"y":0.19},{"strand":"NTS","x":118,"y":0.192},{"strand":"NTS","x":120,"y":0.19}
  ]
 },
 "spacing": 25.5,
 "vconcat": [
  {
   "title": {"text": "A)", "anchor": "start", "frame": "bounds", "fontWeight": "bold", "fontSize": 13, "offset": 3},
   "bounds": "flush",
   "spacing": 11.5,
   "hconcat": [
    {"width": 123.5, "height": 84, "title": {"text": "S2 10min", "offset": -5.2},
     "encoding": {"x": {"field": "x", "type": "quantitative", "scale": {"domain": [-7, 127]}, "axis": {"values": [0, 20, 60, 100, 120], "labelExpr": "datum.value == 0 ? '−2kb' : datum.value == 20 ? 'TSS' : datum.value == 60 ? '50%' : datum.value == 100 ? 'TES' : '2kb'", "labelAngle": 270, "title": null}}},
     "layer": [
      {"data": {"name": "markers"}, "mark": {"type": "rule", "strokeDash": [2.5, 2], "color": "#555", "strokeWidth": 0.8}, "encoding": {}},
      {"data": {"name": "s2_10min"}, "mark": {"type": "line"}, "encoding": {"y": {"field": "y", "type": "quantitative", "scale": {"domain": [0.75, 6.25]}, "axis": {"values": [2, 4, 6], "title": "Average Repair (RPKM)", "titleX": -6.5}}, "color": {"field": "strand", "type": "nominal", "scale": {"domain": ["TS", "NTS"], "range": ["#00BFC4", "#F8766D"]}, "title": "strand"}}}
     ]},
    {"width": 123.5, "height": 84, "title": "S2 30min",
     "encoding": {"x": {"field": "x", "type": "quantitative", "scale": {"domain": [-7, 127]}, "axis": {"values": [0, 20, 60, 100, 120], "labelExpr": "datum.value == 0 ? '−2kb' : datum.value == 20 ? 'TSS' : datum.value == 60 ? '50%' : datum.value == 100 ? 'TES' : '2kb'", "labelAngle": 270, "title": null}}},
     "layer": [
      {"data": {"name": "markers"}, "mark": {"type": "rule", "strokeDash": [2.5, 2], "color": "#555", "strokeWidth": 0.8}, "encoding": {}},
      {"data": {"name": "s2_30min"}, "mark": {"type": "line"}, "encoding": {"y": {"field": "y", "type": "quantitative", "scale": {"domain": [0.75, 6.25]}, "axis": {"values": [2, 4, 6], "title": null}}, "color": {"field": "strand", "type": "nominal", "scale": {"domain": ["TS", "NTS"], "range": ["#00BFC4", "#F8766D"]}, "title": "strand"}}}
     ]},
    {"width": 123.5, "height": 84, "title": "S2 8h",
     "encoding": {"x": {"field": "x", "type": "quantitative", "scale": {"domain": [-7, 127]}, "axis": {"values": [0, 20, 60, 100, 120], "labelExpr": "datum.value == 0 ? '−2kb' : datum.value == 20 ? 'TSS' : datum.value == 60 ? '50%' : datum.value == 100 ? 'TES' : '2kb'", "labelAngle": 270, "title": null}}},
     "layer": [
      {"data": {"name": "markers"}, "mark": {"type": "rule", "strokeDash": [2.5, 2], "color": "#555", "strokeWidth": 0.8}, "encoding": {}},
      {"data": {"name": "s2_8h"}, "mark": {"type": "line"}, "encoding": {"y": {"field": "y", "type": "quantitative", "scale": {"domain": [0.75, 6.25]}, "axis": {"values": [2, 4, 6], "title": null}}, "color": {"field": "strand", "type": "nominal", "scale": {"domain": ["TS", "NTS"], "range": ["#00BFC4", "#F8766D"]}, "title": "strand"}}}
     ]},
    {"width": 123.5, "height": 84, "title": "S2 16h",
     "encoding": {"x": {"field": "x", "type": "quantitative", "scale": {"domain": [-7, 127]}, "axis": {"values": [0, 20, 60, 100, 120], "labelExpr": "datum.value == 0 ? '−2kb' : datum.value == 20 ? 'TSS' : datum.value == 60 ? '50%' : datum.value == 100 ? 'TES' : '2kb'", "labelAngle": 270, "title": null}}},
     "layer": [
      {"data": {"name": "markers"}, "mark": {"type": "rule", "strokeDash": [2.5, 2], "color": "#555", "strokeWidth": 0.8}, "encoding": {}},
      {"data": {"name": "s2_16h"}, "mark": {"type": "line"}, "encoding": {"y": {"field": "y", "type": "quantitative", "scale": {"domain": [0.75, 6.25]}, "axis": {"values": [2, 4, 6], "title": null}}, "color": {"field": "strand", "type": "nominal", "scale": {"domain": ["TS", "NTS"], "range": ["#00BFC4", "#F8766D"]}, "title": "strand"}}}
     ]},
    {"width": 123.5, "height": 84, "title": "S2 24h",
     "encoding": {"x": {"field": "x", "type": "quantitative", "scale": {"domain": [-7, 127]}, "axis": {"values": [0, 20, 60, 100, 120], "labelExpr": "datum.value == 0 ? '−2kb' : datum.value == 20 ? 'TSS' : datum.value == 60 ? '50%' : datum.value == 100 ? 'TES' : '2kb'", "labelAngle": 270, "title": null}}},
     "layer": [
      {"data": {"name": "markers"}, "mark": {"type": "rule", "strokeDash": [2.5, 2], "color": "#555", "strokeWidth": 0.8}, "encoding": {}},
      {"data": {"name": "s2_24h"}, "mark": {"type": "line"}, "encoding": {"y": {"field": "y", "type": "quantitative", "scale": {"domain": [0.75, 6.25]}, "axis": {"values": [2, 4, 6], "title": null}}, "color": {"field": "strand", "type": "nominal", "scale": {"domain": ["TS", "NTS"], "range": ["#00BFC4", "#F8766D"]}, "title": "strand"}}}
     ]}
   ]
  },
  {
   "spacing": 11.5,
   "vconcat": [
    {
     "bounds": "flush",
     "spacing": 18,
     "hconcat": [
      {"width": 125, "height": 77, "title": {"text": "NHF1 12min", "offset": -8.7, "dx": 4.5},
       "encoding": {"x": {"field": "x", "type": "quantitative", "scale": {"domain": [-17.4, 127]}, "axis": {"values": [0, 20, 60, 100, 120], "labelExpr": "datum.value == 0 ? '−2kb' : datum.value == 20 ? 'TSS' : datum.value == 60 ? '50%' : datum.value == 100 ? 'TES' : '2kb'", "labelAngle": 270, "title": null, "domainDash": [0, 9, 400, 0]}}},
       "layer": [
        {"data": {"name": "markers"}, "mark": {"type": "rule", "strokeDash": [2.5, 2], "color": "#555", "strokeWidth": 0.8}, "encoding": {}},
        {"data": {"name": "nhf1_12min"}, "mark": {"type": "line"}, "encoding": {"y": {"field": "y", "type": "quantitative", "scale": {"domain": [0.08, 0.62]}, "axis": {"values": [0.2, 0.4, 0.6], "format": ".1f", "title": "Average Repair (RPKM)", "titleX": -15, "offset": -9}}, "color": {"field": "strand", "type": "nominal", "scale": {"domain": ["TS", "NTS"], "range": ["#00BFC4", "#F8766D"]}, "title": "strand"}}}
       ]},
      {"width": 116, "height": 77, "title": "NHF1 36min",
       "encoding": {"x": {"field": "x", "type": "quantitative", "scale": {"domain": [-7, 127]}, "axis": {"values": [0, 20, 60, 100, 120], "labelExpr": "datum.value == 0 ? '−2kb' : datum.value == 20 ? 'TSS' : datum.value == 60 ? '50%' : datum.value == 100 ? 'TES' : '2kb'", "labelAngle": 270, "title": null}}},
       "layer": [
        {"data": {"name": "markers"}, "mark": {"type": "rule", "strokeDash": [2.5, 2], "color": "#555", "strokeWidth": 0.8}, "encoding": {}},
        {"data": {"name": "nhf1_36min"}, "mark": {"type": "line"}, "encoding": {"y": {"field": "y", "type": "quantitative", "scale": {"domain": [0.08, 0.62]}, "axis": {"values": [0.2, 0.4, 0.6], "format": ".1f", "title": null}}, "color": {"field": "strand", "type": "nominal", "scale": {"domain": ["TS", "NTS"], "range": ["#00BFC4", "#F8766D"]}, "title": "strand"}}}
       ]},
      {"width": 116, "height": 77, "title": "NHF1 8h",
       "encoding": {"x": {"field": "x", "type": "quantitative", "scale": {"domain": [-7, 127]}, "axis": {"values": [0, 20, 60, 100, 120], "labelExpr": "datum.value == 0 ? '−2kb' : datum.value == 20 ? 'TSS' : datum.value == 60 ? '50%' : datum.value == 100 ? 'TES' : '2kb'", "labelAngle": 270, "title": null}}},
       "layer": [
        {"data": {"name": "markers"}, "mark": {"type": "rule", "strokeDash": [2.5, 2], "color": "#555", "strokeWidth": 0.8}, "encoding": {}},
        {"data": {"name": "nhf1_8h"}, "mark": {"type": "line"}, "encoding": {"y": {"field": "y", "type": "quantitative", "scale": {"domain": [0.08, 0.62]}, "axis": {"values": [0.2, 0.4, 0.6], "format": ".1f", "title": null}}, "color": {"field": "strand", "type": "nominal", "scale": {"domain": ["TS", "NTS"], "range": ["#00BFC4", "#F8766D"]}, "title": "strand"}}}
       ]},
      {"width": 116, "height": 77, "title": "NHF1 16h",
       "encoding": {"x": {"field": "x", "type": "quantitative", "scale": {"domain": [-7, 127]}, "axis": {"values": [0, 20, 60, 100, 120], "labelExpr": "datum.value == 0 ? '−2kb' : datum.value == 20 ? 'TSS' : datum.value == 60 ? '50%' : datum.value == 100 ? 'TES' : '2kb'", "labelAngle": 270, "title": null}}},
       "layer": [
        {"data": {"name": "markers"}, "mark": {"type": "rule", "strokeDash": [2.5, 2], "color": "#555", "strokeWidth": 0.8}, "encoding": {}},
        {"data": {"name": "nhf1_16h"}, "mark": {"type": "line"}, "encoding": {"y": {"field": "y", "type": "quantitative", "scale": {"domain": [0.08, 0.62]}, "axis": {"values": [0.2, 0.4, 0.6], "format": ".1f", "title": null}}, "color": {"field": "strand", "type": "nominal", "scale": {"domain": ["TS", "NTS"], "range": ["#00BFC4", "#F8766D"]}, "title": "strand"}}}
       ]},
      {"width": 116, "height": 77, "title": "NHF1 24h",
       "encoding": {"x": {"field": "x", "type": "quantitative", "scale": {"domain": [-7, 127]}, "axis": {"values": [0, 20, 60, 100, 120], "labelExpr": "datum.value == 0 ? '−2kb' : datum.value == 20 ? 'TSS' : datum.value == 60 ? '50%' : datum.value == 100 ? 'TES' : '2kb'", "labelAngle": 270, "title": null}}},
       "layer": [
        {"data": {"name": "markers"}, "mark": {"type": "rule", "strokeDash": [2.5, 2], "color": "#555", "strokeWidth": 0.8}, "encoding": {}},
        {"data": {"name": "nhf1_24h"}, "mark": {"type": "line"}, "encoding": {"y": {"field": "y", "type": "quantitative", "scale": {"domain": [0.08, 0.62]}, "axis": {"values": [0.2, 0.4, 0.6], "format": ".1f", "title": null}}, "color": {"field": "strand", "type": "nominal", "scale": {"domain": ["TS", "NTS"], "range": ["#00BFC4", "#F8766D"]}, "title": "strand"}}}
       ]}
     ]
    },
    {
     "title": {"text": "B)", "anchor": "start", "frame": "bounds", "fontWeight": "bold", "fontSize": 13, "offset": 3},
     "bounds": "flush",
     "spacing": 18,
     "hconcat": [
      {"width": 125, "height": 78, "title": {"text": "NHF1 1h", "offset": -8.2, "dx": 4.5},
       "encoding": {"x": {"field": "x", "type": "quantitative", "scale": {"domain": [-17.4, 127]}, "axis": {"values": [0, 20, 60, 100, 120], "labelExpr": "datum.value == 0 ? '−2kb' : datum.value == 20 ? 'TSS' : datum.value == 60 ? '50%' : datum.value == 100 ? 'TES' : '2kb'", "labelAngle": 270, "title": null, "domainDash": [0, 9, 400, 0]}}},
       "layer": [
        {"data": {"name": "markers"}, "mark": {"type": "rule", "strokeDash": [2.5, 2], "color": "#555", "strokeWidth": 0.8}, "encoding": {}},
        {"data": {"name": "nhf1_1h"}, "mark": {"type": "line"}, "encoding": {"y": {"field": "y", "type": "quantitative", "scale": {"domain": [0.07, 0.635]}, "axis": {"values": [0.2, 0.4, 0.6], "format": ".1f", "title": "Average Repair (RPKM)", "titleX": -15, "offset": -9}}, "color": {"field": "strand", "type": "nominal", "scale": {"domain": ["TS", "NTS"], "range": ["#00BFC4", "#F8766D"]}, "title": "strand"}}}
       ]},
      {"width": 116, "height": 78, "title": "CSB 1h",
       "encoding": {"x": {"field": "x", "type": "quantitative", "scale": {"domain": [-7, 127]}, "axis": {"values": [0, 20, 60, 100, 120], "labelExpr": "datum.value == 0 ? '−2kb' : datum.value == 20 ? 'TSS' : datum.value == 60 ? '50%' : datum.value == 100 ? 'TES' : '2kb'", "labelAngle": 270, "title": null}}},
       "layer": [
        {"data": {"name": "markers"}, "mark": {"type": "rule", "strokeDash": [2.5, 2], "color": "#555", "strokeWidth": 0.8}, "encoding": {}},
        {"data": {"name": "csb_1h"}, "mark": {"type": "line"}, "encoding": {"y": {"field": "y", "type": "quantitative", "scale": {"domain": [0.07, 0.635]}, "axis": {"values": [0.2, 0.4, 0.6], "format": ".1f", "title": null}}, "color": {"field": "strand", "type": "nominal", "scale": {"domain": ["TS", "NTS"], "range": ["#00BFC4", "#F8766D"]}, "title": "strand"}}}
       ]}
     ]
    }
   ]
  }
 ],
 "config": {
  "font": "Liberation Sans",
  "view": {"stroke": null},
  "title": {"fontSize": 11, "fontWeight": "normal", "offset": 4, "color": "black", "font": "Liberation Sans", "frame": "group"},
  "axis": {"grid": false, "domainColor": "#333", "tickColor": "#333", "tickSize": 2, "labelFontSize": 9, "labelColor": "#4D4D4D", "labelPadding": 0.5, "labelFlush": false, "labelOverlap": false, "titleFontSize": 9.5, "titleFontWeight": "normal", "titleColor": "black", "titlePadding": 0, "font": "Liberation Sans"},
  "line": {"strokeWidth": 1.1},
  "legend": {"orient": "none", "legendX": 321, "legendY": 296, "titleFontSize": 13, "titleFontWeight": "normal", "titleColor": "black", "labelFontSize": 12.5, "labelColor": "black", "symbolType": "stroke", "symbolStrokeWidth": 1.5, "symbolSize": 90, "rowPadding": 12, "labelOffset": 8, "titlePadding": 4}
 }
}
